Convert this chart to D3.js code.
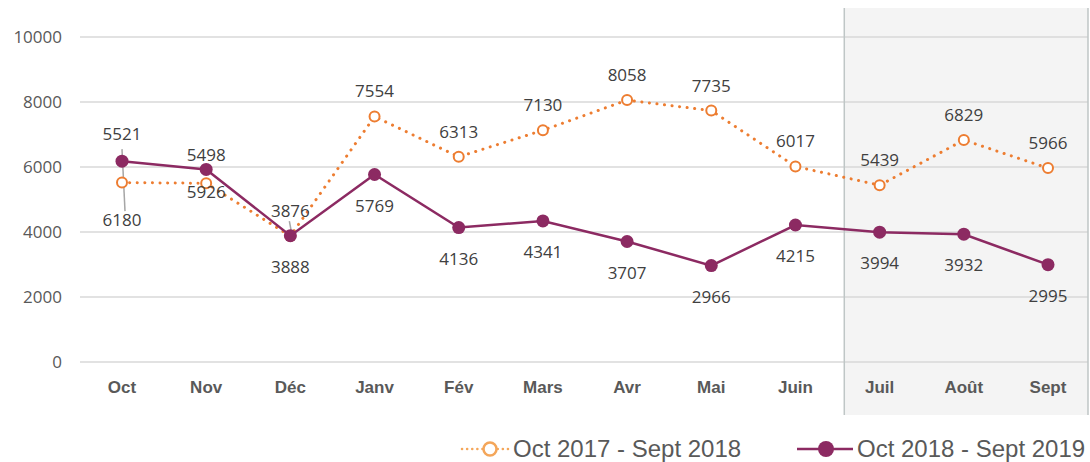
<!DOCTYPE html>
<html>
<head>
<meta charset="utf-8">
<script src="https://cdn.jsdelivr.net/npm/d3@7"></script>
<style>
  body { margin: 0; background: #fff; }
  .grid line { stroke: #d9d9d9; stroke-width: 1.5; }
  .tick-label { font-family: "Open Sans", sans-serif; font-size: 17px; fill: #595959; }
  .cat-label { font-family: "Liberation Sans", Arial, sans-serif; font-size: 17px; font-weight: bold; fill: #595959; }
  .data-label { font-family: "Open Sans", sans-serif; font-size: 17px; fill: #404040; }
  .legend-text { font-family: "Liberation Sans", Arial, sans-serif; font-size: 24px; fill: #595959; }
</style>
</head>
<body>
<div id="chart"></div>
<script>
const months = ['Oct', 'Nov', 'Déc', 'Janv', 'Fév', 'Mars', 'Avr', 'Mai', 'Juin', 'Juil', 'Août', 'Sept'];
const prevYear = [5521, 5498, 3876, 7554, 6313, 7130, 8058, 7735, 6017, 5439, 6829, 5966];
const curYear = [6180, 5926, 3888, 5769, 4136, 4341, 3707, 2966, 4215, 3994, 3932, 2995];
const yTicks = [0, 2000, 4000, 6000, 8000, 10000];
const seriesNames = ['Oct 2017 - Sept 2018', 'Oct 2018 - Sept 2019'];
const shadedMonths = ['Juil', 'Août', 'Sept'];

const width = 1090, height = 462;
const orange = '#ED7D31', purple = '#8C2A62';

const svg = d3.select('#chart').append('svg')
  .attr('width', width)
  .attr('height', height);

const x = d3.scalePoint()
  .domain(months)
  .range([122, 1048]);

const y = d3.scaleLinear()
  .domain([0, 10000])
  .range([362, 37]);

const step = x.step();

// shaded forecast zone
const shadeX0 = x(shadedMonths[0]) - step * 0.42;
svg.append('rect')
  .attr('x', shadeX0)
  .attr('y', 8)
  .attr('width', 1088 - shadeX0)
  .attr('height', 407)
  .attr('fill', '#f4f4f4');

// grid lines
svg.append('g').attr('class', 'grid')
  .selectAll('line')
  .data(yTicks)
  .enter().append('line')
  .attr('x1', 80).attr('x2', 1088)
  .attr('y1', d => y(d)).attr('y2', d => y(d));

[shadeX0, 1088].forEach(function(bx) {
  svg.append('line')
    .attr('x1', bx).attr('x2', bx)
    .attr('y1', 8).attr('y2', 415)
    .attr('stroke', '#bfc6c6').attr('stroke-width', 1.5);
});

// y tick labels
svg.append('g')
  .selectAll('text')
  .data(yTicks)
  .enter().append('text')
  .attr('class', 'tick-label')
  .attr('x', 62)
  .attr('y', d => y(d) + 6)
  .attr('text-anchor', 'end')
  .text(d => d);

// categories
svg.append('g')
  .selectAll('text')
  .data(months)
  .enter().append('text')
  .attr('class', 'cat-label')
  .attr('x', d => x(d))
  .attr('y', 393)
  .attr('text-anchor', 'middle')
  .text(d => d);

const line = d3.line()
  .x((d, i) => x(months[i]))
  .y(d => y(d));

// leader lines for labels pulled away
svg.append('line')
  .attr('x1', x('Oct')).attr('y1', y(6180) - 12)
  .attr('x2', x('Oct') + 3).attr('y2', y(6180) + 50)
  .attr('stroke', '#a6a6a6').attr('stroke-width', 1.5);
svg.append('line')
  .attr('x1', x('Déc') - 1).attr('y1', y(3876) - 15)
  .attr('x2', x('Déc') + 2).attr('y2', y(3876) + 1)
  .attr('stroke', '#a6a6a6').attr('stroke-width', 1.5);

// previous year (dotted orange)
svg.append('path')
  .datum(prevYear)
  .attr('d', line)
  .attr('fill', 'none')
  .attr('stroke', orange)
  .attr('stroke-width', 3)
  .attr('stroke-linecap', 'round')
  .attr('stroke-dasharray', '0.1 7.5');

// current year (solid purple)
svg.append('path')
  .datum(curYear)
  .attr('d', line)
  .attr('fill', 'none')
  .attr('stroke', purple)
  .attr('stroke-width', 2.5);

svg.append('g')
  .selectAll('circle')
  .data(prevYear)
  .enter().append('circle')
  .attr('cx', (d, i) => x(months[i]))
  .attr('cy', d => y(d))
  .attr('r', 5)
  .attr('fill', '#fff')
  .attr('stroke', orange)
  .attr('stroke-width', 2);

svg.append('g')
  .selectAll('circle')
  .data(curYear)
  .enter().append('circle')
  .attr('cx', (d, i) => x(months[i]))
  .attr('cy', d => y(d))
  .attr('r', 6.5)
  .attr('fill', purple);

// data labels: orange above, purple below (a few nudged like the original)
const prevDy = {Oct: -43, Nov: -22};
const curDy = {Oct: 65, Nov: 29};

svg.append('g')
  .selectAll('text')
  .data(prevYear)
  .enter().append('text')
  .attr('class', 'data-label')
  .attr('x', (d, i) => x(months[i]))
  .attr('y', (d, i) => y(d) + (prevDy[months[i]] || -19))
  .attr('text-anchor', 'middle')
  .text(d => d);

svg.append('g')
  .selectAll('text')
  .data(curYear)
  .enter().append('text')
  .attr('class', 'data-label')
  .attr('x', (d, i) => x(months[i]))
  .attr('y', (d, i) => y(d) + (curDy[months[i]] || 37))
  .attr('text-anchor', 'middle')
  .text(d => d);

// legend
const legend = svg.append('g');
const legendX = [462, 797];
const legendY = 449;

legend.append('line')
  .attr('x1', legendX[0]).attr('x2', legendX[0] + 50)
  .attr('y1', legendY).attr('y2', legendY)
  .attr('stroke', '#F4A65A').attr('stroke-width', 2.5)
  .attr('stroke-linecap', 'round')
  .attr('stroke-dasharray', '0.1 5');
legend.append('circle')
  .attr('cx', legendX[0] + 28).attr('cy', legendY).attr('r', 6.5)
  .attr('fill', '#fff').attr('stroke', '#F4A65A').attr('stroke-width', 2.5);

legend.append('line')
  .attr('x1', legendX[1]).attr('x2', legendX[1] + 56)
  .attr('y1', legendY).attr('y2', legendY)
  .attr('stroke', purple).attr('stroke-width', 2.5);
legend.append('circle')
  .attr('cx', legendX[1] + 29).attr('cy', legendY).attr('r', 8)
  .attr('fill', purple);

legend.selectAll('text')
  .data(seriesNames)
  .enter().append('text')
  .attr('class', 'legend-text')
  .attr('x', (d, i) => legendX[i] + (i === 0 ? 51 : 60))
  .attr('y', 457)
  .text(d => d);
</script>
</body>
</html>
